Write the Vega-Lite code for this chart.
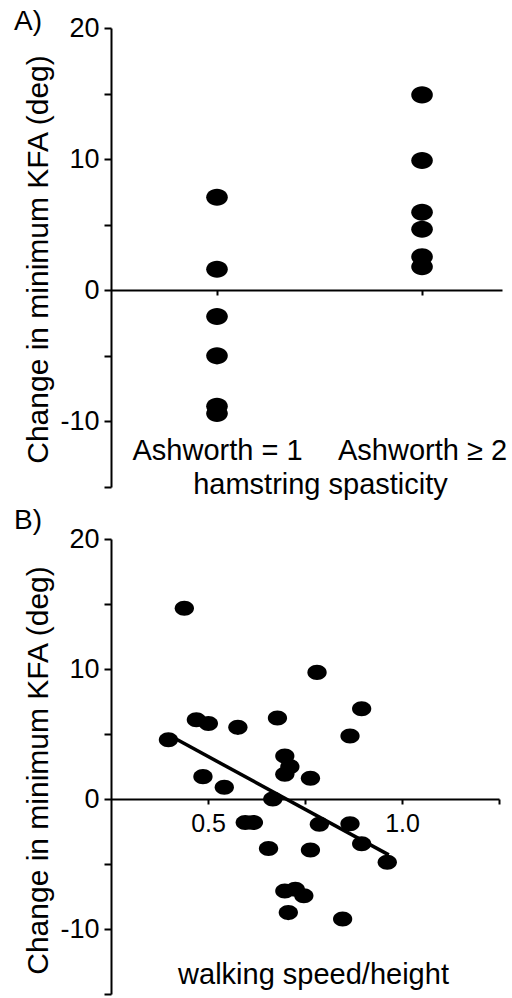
{
  "$schema": "https://vega.github.io/schema/vega-lite/v6.json",
  "padding": {"left": 14, "top": 8, "right": 0, "bottom": 0},
  "background": "white",
  "bounds": "flush",
  "spacing": 52,
  "datasets": {
    "ashworth": [
      {"group": 1, "change": 7.1},
      {"group": 1, "change": 1.6},
      {"group": 1, "change": -2.0},
      {"group": 1, "change": -5.0},
      {"group": 1, "change": -8.85},
      {"group": 1, "change": -9.4},
      {"group": 2, "change": 14.9},
      {"group": 2, "change": 9.9},
      {"group": 2, "change": 5.95},
      {"group": 2, "change": 4.65},
      {"group": 2, "change": 2.55},
      {"group": 2, "change": 1.8}
    ],
    "speed": [
      {"speed": 0.439, "change": 14.67},
      {"speed": 0.781, "change": 9.74},
      {"speed": 0.896, "change": 6.95},
      {"speed": 0.470, "change": 6.1},
      {"speed": 0.501, "change": 5.8},
      {"speed": 0.577, "change": 5.51},
      {"speed": 0.679, "change": 6.23},
      {"speed": 0.866, "change": 4.85},
      {"speed": 0.398, "change": 4.56},
      {"speed": 0.698, "change": 3.31},
      {"speed": 0.711, "change": 2.49},
      {"speed": 0.698, "change": 1.9},
      {"speed": 0.487, "change": 1.72},
      {"speed": 0.764, "change": 1.59},
      {"speed": 0.542, "change": 0.9},
      {"speed": 0.667, "change": 0.0},
      {"speed": 0.596, "change": -1.8},
      {"speed": 0.617, "change": -1.8},
      {"speed": 0.787, "change": -1.95},
      {"speed": 0.866, "change": -1.9},
      {"speed": 0.656, "change": -3.8},
      {"speed": 0.764, "change": -3.92},
      {"speed": 0.896, "change": -3.44},
      {"speed": 0.962, "change": -4.87},
      {"speed": 0.698, "change": -7.08},
      {"speed": 0.725, "change": -6.95},
      {"speed": 0.747, "change": -7.44},
      {"speed": 0.707, "change": -8.74},
      {"speed": 0.847, "change": -9.23}
    ],
    "fit": [
      {"speed": 0.40, "change": 4.9},
      {"speed": 0.966, "change": -4.3}
    ]
  },
  "vconcat": [
    {
      "width": 391,
      "height": 459,
      "title": {"text": "A)", "anchor": "start", "frame": "group", "orient": "top", "baseline": "alphabetic", "align": "left", "fontSize": 28, "offset": -16, "dx": -97, "dy": 28},
      "data": {"name": "ashworth"},
      "mark": {"type": "point", "filled": true, "color": "black", "opacity": 1, "strokeWidth": 0,
        "shape": "M -1 0 A 1 0.79 0 1 1 1 0 A 1 0.79 0 1 1 -1 0 Z", "size": 467},
      "encoding": {
        "x": {
          "field": "group", "type": "quantitative",
          "scale": {"domain": [0.483, 2.39], "nice": false, "zero": false},
          "axis": {
            "orient": "bottom", "offset": -197, "values": [1, 2],
            "labelExpr": "datum.value == 1 ? 'Ashworth = 1' : 'Ashworth ≥ 2'",
            "labelFontSize": 29, "labelBaseline": "alphabetic", "labelPadding": 164,
            "labelOverlap": false, "labelFlush": false, "labelBound": false,
            "tickSize": 5,
            "title": "hamstring spasticity", "titleFontSize": 29,
            "titleBaseline": "alphabetic", "titleX": 209, "titleY": 203, "titleAnchor": "middle", "titleAlign": "center"
          }
        },
        "y": {
          "field": "change", "type": "quantitative",
          "scale": {"domain": [-15, 20], "nice": false, "zero": false},
          "axis": {
            "values": [-15, -10, -5, 0, 5, 10, 15, 20],
            "labelExpr": "datum.value % 10 == 0 ? toString(datum.value) : ''",
            "labelFontSize": 27, "labelPadding": 5, "tickSize": 7,
            "labelOverlap": false, "labelFlush": false, "labelBound": false,
            "title": "Change in minimum KFA (deg)", "titleFontSize": 30,
            "titleAngle": -90, "titleBaseline": "alphabetic", "titleX": -64, "titleY": 231, "titleAlign": "center"
          }
        }
      }
    },
    {
      "width": 388,
      "height": 455,
      "title": {"text": "B)", "anchor": "start", "frame": "group", "orient": "top", "baseline": "alphabetic", "align": "left", "fontSize": 28, "offset": -6.5, "dx": -97, "dy": 25},
      "layer": [
        {
          "data": {"name": "fit"},
          "mark": {"type": "line", "color": "black", "strokeWidth": 3.5},
          "encoding": {
            "x": {"field": "speed", "type": "quantitative"},
            "y": {"field": "change", "type": "quantitative"}
          }
        },
        {
          "data": {"name": "speed"},
          "mark": {"type": "point", "filled": true, "color": "black", "opacity": 1, "strokeWidth": 0,
            "shape": "M -1 0 A 1 0.78 0 1 1 1 0 A 1 0.78 0 1 1 -1 0 Z", "size": 372},
          "encoding": {
            "x": {
              "field": "speed", "type": "quantitative",
              "scale": {"domain": [0.25, 1.25], "nice": false, "zero": false},
              "axis": {
                "orient": "bottom", "offset": -195, "values": [0.5, 0.75, 1.0, 1.25],
                "labelExpr": "datum.value == 0.5 ? '0.5' : (datum.value == 1 ? '1.0' : '')",
                "labelFontSize": 25, "labelBaseline": "alphabetic", "labelPadding": 27.5,
                "labelOverlap": false, "labelFlush": false, "labelBound": false,
                "tickSize": 5,
                "title": "walking speed/height", "titleFontSize": 29,
                "titleBaseline": "alphabetic", "titleX": 202, "titleY": 184, "titleAnchor": "middle", "titleAlign": "center"
              }
            },
            "y": {
              "field": "change", "type": "quantitative",
              "scale": {"domain": [-15, 20], "nice": false, "zero": false},
              "axis": {
                "values": [-15, -10, -5, 0, 5, 10, 15, 20],
                "labelExpr": "datum.value % 10 == 0 ? toString(datum.value) : ''",
                "labelFontSize": 27, "labelPadding": 5, "tickSize": 7,
                "labelOverlap": false, "labelFlush": false, "labelBound": false,
                "title": "Change in minimum KFA (deg)", "titleFontSize": 30,
                "titleAngle": -90, "titleBaseline": "alphabetic", "titleX": -64, "titleY": 231, "titleAlign": "center"
              }
            }
          }
        }
      ]
    }
  ],
  "config": {
    "font": "Liberation Sans",
    "view": {"stroke": null},
    "axis": {
      "grid": false, "domainColor": "black", "domainWidth": 2, "tickColor": "black", "tickWidth": 2,
      "labelColor": "black", "titleColor": "black", "labelFont": "Liberation Sans", "titleFont": "Liberation Sans",
      "titleFontWeight": "normal"
    },
    "title": {"font": "Liberation Sans", "fontWeight": "normal", "color": "black"}
  }
}
